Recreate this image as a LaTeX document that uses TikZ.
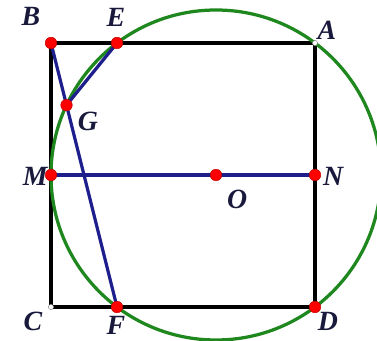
\documentclass[tikz,border=0pt]{standalone}
\usepackage{fontspec}
\setmainfont{Liberation Serif}
\definecolor{circgreen}{RGB}{30,135,30}
\definecolor{segblue}{RGB}{30,30,140}
\definecolor{labnavy}{RGB}{25,25,60}
\tikzset{
  dot/.style={circle,fill=red,draw=red!75!black,inner sep=0pt,minimum size=10pt},
  hollow/.style={circle,fill=white,draw=gray,inner sep=0pt,minimum size=4.5pt},
  lab/.style={text=labnavy,font=\fontsize{24}{28}\selectfont\bfseries\itshape}
}
\begin{document}
\begin{tikzpicture}
\useasboundingbox (-1.545,-5.03) rectangle (9.879,5.303);
\clip (-1.545,-5.03) rectangle (9.879,5.303);

\coordinate (M) at (0,0);
\coordinate (N) at (8,0);
\coordinate (O) at (5,0);
\coordinate (B) at (0,4);
\coordinate (A) at (8,4);
\coordinate (D) at (8,-4);
\coordinate (C) at (0,-4);
\coordinate (E) at (2,4);
\coordinate (F) at (2,-4);
\coordinate (G) at (8/17,36/17);

\draw[black,line width=3pt] (B) -- (A) -- (D) -- (C) -- cycle;
\draw[circgreen,line width=2.8pt] (O) circle (5);
\draw[segblue,line width=2.8pt] (B) -- (F);
\draw[segblue,line width=2.8pt] (E) -- (G);
\draw[segblue,line width=2.8pt] (M) -- (N);

\node[hollow] (pA) at (A) {};
\node[hollow] (pC) at (C) {};
\node[dot] (pB) at (B) {};
\node[dot] (pE) at (E) {};
\node[dot] (pG) at (G) {};
\node[dot] (pM) at (M) {};
\node[dot] (pO) at (O) {};
\node[dot] (pN) at (N) {};
\node[dot] (pF) at (F) {};
\node[dot] (pD) at (D) {};

\node[lab] (lB) at (-0.61,4.82) {B};
\node[lab] (lE) at (1.97,4.79) {E};
\node[lab] (lA) at (8.36,4.39) {A};
\node[lab] (lG) at (1.12,1.61) {G};
\node[lab] (lM) at (-0.48,-0.03) {M};
\node[lab] (lO) at (5.64,-0.73) {O};
\node[lab] (lN) at (8.55,-0.03) {N};
\node[lab] (lC) at (-0.55,-4.45) {C};
\node[lab] (lF) at (1.97,-4.55) {F};
\node[lab] (lD) at (8.39,-4.45) {D};
\end{tikzpicture}
\end{document}
